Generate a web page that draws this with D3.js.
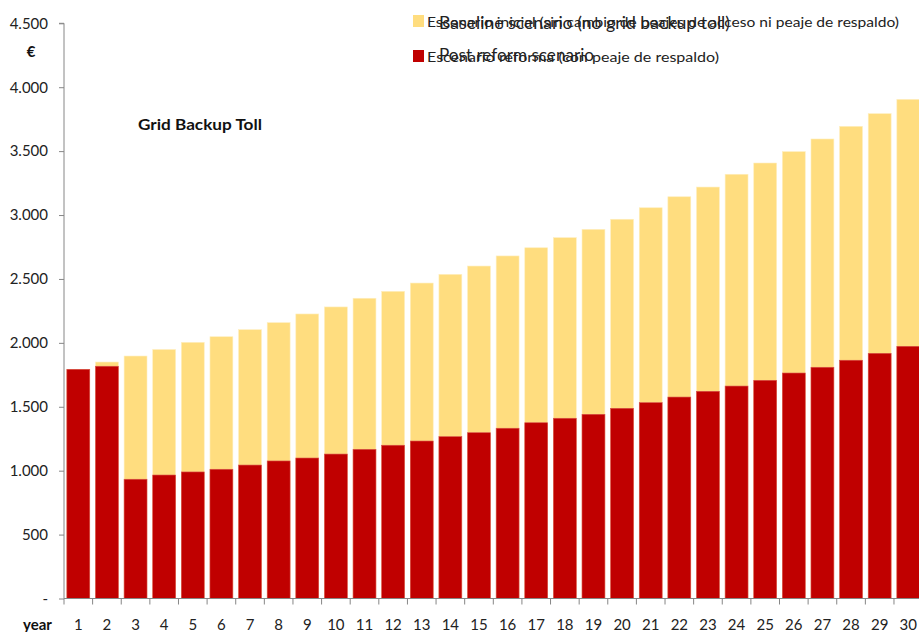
<!DOCTYPE html>
<html>
<head>
<meta charset="utf-8">
<script src="https://cdn.jsdelivr.net/npm/d3@7"></script>
<style>
  html, body { margin: 0; padding: 0; background: #fff; }
  svg { display: block; font-family: Lato, "Open Sans", sans-serif; }
</style>
</head>
<body>
<svg id="chart" width="919" height="632"></svg>
<script>
// ---- data ----
const years = d3.range(1, 31).map(String);
const baseline = [1793, 1850, 1897, 1948, 2004, 2048, 2103, 2158, 2226, 2281,
                  2349, 2403, 2468, 2536, 2601, 2680, 2744, 2823, 2888, 2967,
                  3057, 3143, 3219, 3319, 3407, 3496, 3595, 3694, 3793, 3905];
const postReform = [1793, 1817, 933, 966, 990, 1011, 1044, 1076, 1099, 1130,
                    1167, 1199, 1232, 1266, 1297, 1332, 1375, 1410, 1441, 1488,
                    1532, 1576, 1621, 1662, 1707, 1764, 1809, 1864, 1918, 1973];
const yTicks = [0, 500, 1000, 1500, 2000, 2500, 3000, 3500, 4000, 4500];
const seriesNamesEs = ["Escenario inicial (sin cambio de peajes de acceso ni peaje de respaldo)",
                       "Escenario reforma (con peaje de respaldo)"];
const seriesNamesEn = ["Baseline scenario (no grid backup toll)", "Post reform scenario"];
const colors = ["#FFDD7F", "#C00000"];
const title = "Grid Backup Toll";

// ---- layout ----
const svg = d3.select("#chart");
const x0 = 64, x1 = 922.6, yTop = 23.3, yBot = 598.5;

const x = d3.scaleBand().domain(years).range([x0, x1]).paddingInner(0.2).paddingOuter(0.1);
const y = d3.scaleLinear().domain([0, 4500]).range([yBot, yTop]);

// bars: baseline behind, post reform in front
svg.append("g").selectAll("rect").data(years).join("rect")
  .attr("x", d => x(d)).attr("width", x.bandwidth())
  .attr("y", (d, i) => y(baseline[i]))
  .attr("height", (d, i) => yBot - y(baseline[i]))
  .attr("fill", colors[0])
  .attr("stroke", "#FFEFC0").attr("stroke-width", 0.6);

svg.append("g").selectAll("rect").data(years).join("rect")
  .attr("x", d => x(d)).attr("width", x.bandwidth())
  .attr("y", (d, i) => y(postReform[i]))
  .attr("height", (d, i) => yBot - y(postReform[i]))
  .attr("fill", colors[1])
  .attr("stroke", "#D8504A").attr("stroke-width", 0.6);

// y axis
const fmt = v => v === 0 ? "-" : d3.format(",")(v).replace(/,/g, ".");
const yAxis = svg.append("g").attr("transform", `translate(${x0},0)`)
  .call(d3.axisLeft(y).tickValues(yTicks).tickSize(5).tickPadding(11).tickFormat(fmt));
yAxis.selectAll("path, line").attr("stroke", "#868686");
yAxis.select("path.domain").attr("d", `M-5,${yTop}H0V${yBot}`);
yAxis.selectAll("text").attr("font-size", 15).attr("fill", "#222")
  .attr("font-family", "Lato, sans-serif");

// x axis with ticks at category boundaries
const xAxisG = svg.append("g").attr("transform", `translate(0,${yBot})`);
xAxisG.append("line").attr("x1", x0).attr("x2", 919).attr("stroke", "#868686");
const step = x.step();
const bounds = years.map((d, i) => x(d) - x.paddingInner() * step / 2).concat([x1]);
xAxisG.selectAll("line.t").data(bounds).join("line").attr("class", "t")
  .attr("x1", d => d).attr("x2", d => d).attr("y1", 0).attr("y2", 6)
  .attr("stroke", "#868686");
xAxisG.selectAll("text").data(years).join("text")
  .attr("x", d => x(d) + x.bandwidth() / 2).attr("y", 31)
  .attr("text-anchor", "middle").attr("font-size", 15).attr("fill", "#222")
  .text(d => d);

// axis titles
svg.append("text").attr("x", 23).attr("y", 630).attr("font-size", 15).attr("font-weight", "bold")
  .attr("fill", "#111").text("year");
svg.append("text").attr("x", 31).attr("y", 57).attr("font-size", 15).attr("font-weight", "bold")
  .attr("text-anchor", "middle").attr("fill", "#111").text("€");

// chart title
svg.append("text").attr("x", 138).attr("y", 130).attr("font-size", 16).attr("font-weight", "bold")
  .attr("fill", "#111").attr("textLength", 124).attr("lengthAdjust", "spacingAndGlyphs").text(title);

// legend
const lg = svg.append("g");
const rowY = [15, 50];
[0, 1].forEach(i => {
  lg.append("rect").attr("x", 413).attr("y", rowY[i]).attr("width", 11).attr("height", 12)
    .attr("fill", colors[i]);
});
lg.append("text").attr("x", 427).attr("y", 26.5).attr("font-size", 14).attr("fill", "#222")
  .attr("textLength", 472).attr("lengthAdjust", "spacingAndGlyphs").text(seriesNamesEs[0]);
lg.append("text").attr("x", 427).attr("y", 61.5).attr("font-size", 14).attr("fill", "#222")
  .attr("textLength", 292).attr("lengthAdjust", "spacingAndGlyphs").text(seriesNamesEs[1]);
lg.append("text").attr("x", 439).attr("y", 29).attr("font-size", 17).attr("fill", "#222")
  .attr("textLength", 291).attr("lengthAdjust", "spacingAndGlyphs").text(seriesNamesEn[0]);
lg.append("text").attr("x", 439).attr("y", 61).attr("font-size", 17).attr("fill", "#222")
  .attr("textLength", 155).attr("lengthAdjust", "spacingAndGlyphs").text(seriesNamesEn[1]);
</script>
</body>
</html>
